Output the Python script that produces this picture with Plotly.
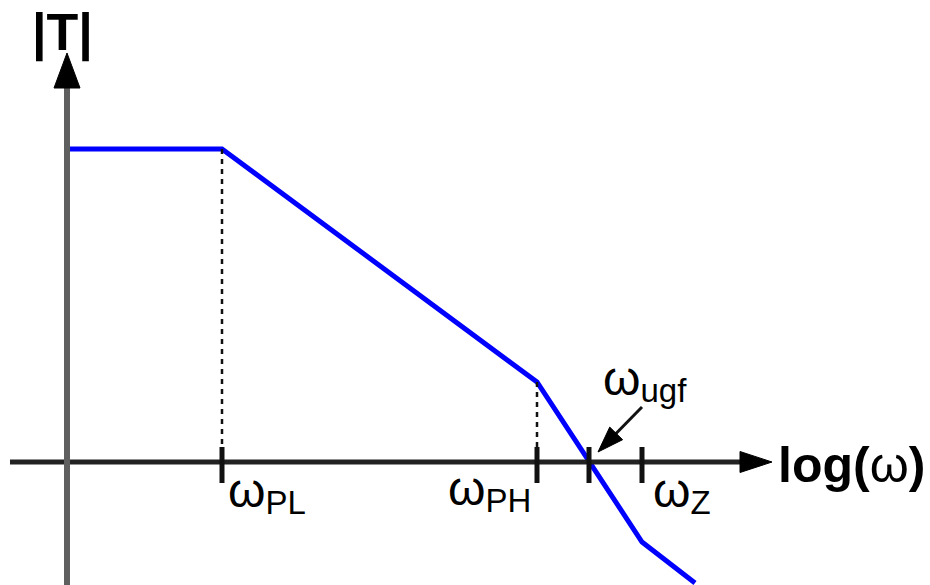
import numpy as np
import plotly.graph_objects as go

# ---- data (log-frequency units, magnitude units) ----
log_w = [0.0, 15.5, 47.0, 57.5, 62.8]        # breakpoints along log(ω)
mag_T = [31.3, 31.3, 8.0, -8.0, -12.1]       # |T| asymptotic magnitude
tick_pos = [15.5, 47.0, 52.2, 57.5]          # ωPL, ωPH, ωugf, ωZ
tick_names = ["PL", "PH", "ugf", "Z"]
dashed_from = [(15.5, 31.3), (47.0, 8.0)]    # corner -> axis guides

XR = [-6.7, 86.3]
YR = [-12.3, 46.2]

fig = go.Figure()

# magnitude curve
fig.add_trace(go.Scatter(x=log_w, y=mag_T, mode="lines",
                         line=dict(color="#0000ff", width=5),
                         hoverinfo="skip", showlegend=False))

shapes = []
# horizontal axis
shapes.append(dict(type="line", xref="x", yref="y", x0=-5.7, y0=0, x1=67.5, y1=0,
                   line=dict(color="#222222", width=5)))
shapes.append(dict(type="path", xref="x", yref="y",
                   path="M 67.3 1.05 L 70.5 0 L 67.3 -1.05 Z",
                   fillcolor="#000000", line=dict(color="#000000", width=1)))
# vertical axis
shapes.append(dict(type="line", xref="x", yref="y", x0=0, y0=YR[0], x1=0, y1=37.6,
                   line=dict(color="#5f5f5f", width=6)))
shapes.append(dict(type="path", xref="x", yref="y",
                   path="M -1.3 37.4 L 0 40.9 L 1.3 37.4 Z",
                   fillcolor="#000000", line=dict(color="#000000", width=1)))
# ticks
for t in tick_pos:
    shapes.append(dict(type="line", xref="x", yref="y", x0=t, y0=1.5, x1=t, y1=-2.1,
                       line=dict(color="#111111", width=5)))
# dashed guides
for (dx, dy) in dashed_from:
    shapes.append(dict(type="line", xref="x", yref="y", x0=dx, y0=dy, x1=dx, y1=1.5,
                       line=dict(color="#111111", width=2.5, dash="5px,5px")))

# ugf pointer arrow
tail = np.array([57.5, 5.5])
tip = np.array([53.1, 1.0])
u = (tip - tail) / np.linalg.norm(tip - tail)
perp = np.array([-u[1], u[0]])
base = tip - 2.6 * u
c1 = base + 0.9 * perp
c2 = base - 0.9 * perp
shapes.append(dict(type="line", xref="x", yref="y", x0=tail[0], y0=tail[1],
                   x1=base[0] + 0.3 * u[0], y1=base[1] + 0.3 * u[1],
                   line=dict(color="#111111", width=3)))
shapes.append(dict(type="path", xref="x", yref="y",
                   path=f"M {c1[0]:.3f} {c1[1]:.3f} L {tip[0]:.3f} {tip[1]:.3f} L {c2[0]:.3f} {c2[1]:.3f} Z",
                   fillcolor="#000000", line=dict(color="#000000", width=1)))

FONT = "Liberation Sans, Arial, sans-serif"
ann = []
def txt(s, x, y, size, anchor="left", yanchor="middle"):
    ann.append(dict(text=s, x=x, y=y, xref="x", yref="y", showarrow=False,
                    xanchor=anchor, yanchor=yanchor,
                    font=dict(family=FONT, size=size, color="#000000")))

txt("<b>|T|</b>", -0.45, 43.0, 52, anchor="center")
txt("<b>log(</b>ω<b>)</b>", 70.9, -0.27, 50)

# omega labels: (x of left edge, y of top edge)
lab_pos = {
    "PL": (15.9, 0.04),
    "PH": (37.9, 0.24),
    "ugf": (53.4, 11.24),
    "Z": (58.4, 0.04),
}
for name in tick_names:
    wx, wy = lab_pos[name]
    txt(f'ω<span style="font-size:33px;baseline-shift:-7px">{name}</span>',
        wx, wy, 48, yanchor="top")

fig.update_layout(
    width=930, height=585,
    margin=dict(l=0, r=0, t=0, b=0),
    paper_bgcolor="#ffffff", plot_bgcolor="#ffffff",
    xaxis=dict(range=XR, visible=False, fixedrange=True),
    yaxis=dict(range=YR, visible=False, fixedrange=True),
    shapes=shapes, annotations=ann, showlegend=False,
)

fig.write_html("out.html", config={"displayModeBar": False},
               post_script="document.body.style.margin='0px';")
